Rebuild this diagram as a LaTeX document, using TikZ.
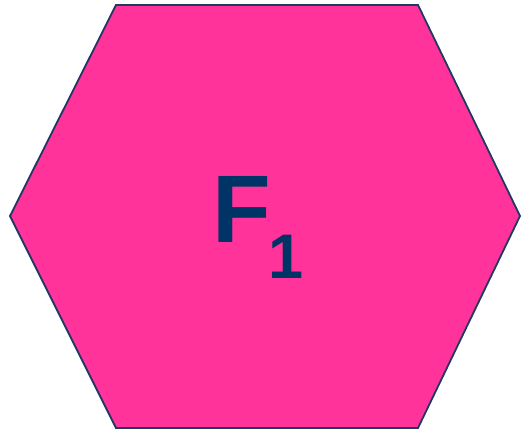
\documentclass[tikz,border=0pt]{standalone}
\usepackage{fontspec}
\setmainfont{Liberation Sans}
\definecolor{hexfill}{HTML}{FF3399}
\definecolor{hexline}{HTML}{1F3864}
\definecolor{txtnavy}{HTML}{003366}
\begin{document}
\begin{tikzpicture}[x=1pt,y=-1pt,
  hexstyle/.style={fill=hexfill,draw=hexline,line width=1.8pt,line join=miter},
  lbl/.style={text=txtnavy,font=\bfseries,inner sep=0pt,anchor=base west}]
\useasboundingbox (0,0) rectangle (521,431);
\coordinate (p1) at (116,5);
\coordinate (p2) at (418,5);
\coordinate (p3) at (520,216);
\coordinate (p4) at (418,428);
\coordinate (p5) at (116,428);
\coordinate (p6) at (10,216);
\draw[hexstyle] (p1) -- (p2) -- (p3) -- (p4) -- (p5) -- (p6) -- cycle;
\node[lbl,font=\bfseries\fontsize{96}{100}\selectfont] (f) at (212,242) {F};
\node[lbl,font=\bfseries\fontsize{63}{70}\selectfont] (one) at (268,278) {1};
\end{tikzpicture}
\end{document}
